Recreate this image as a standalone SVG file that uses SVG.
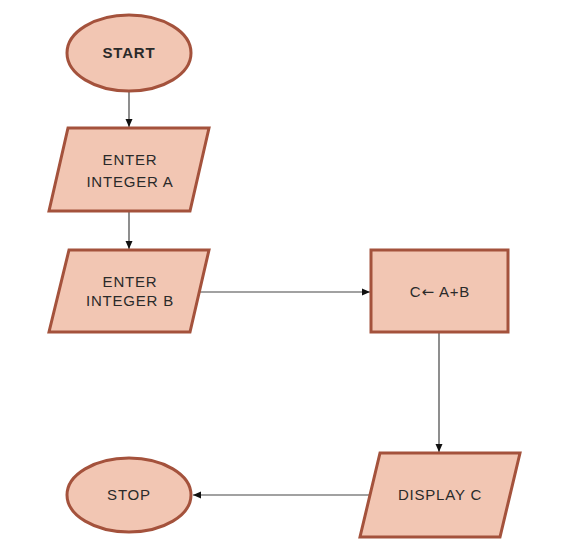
<svg xmlns="http://www.w3.org/2000/svg" width="566" height="548" viewBox="0 0 566 548">
<style>
.shape{fill:#f2c6b3;stroke:#a4523c;stroke-width:3}
.lbl{font-family:"Liberation Sans",Arial,sans-serif;font-size:15px;letter-spacing:0.8px;fill:#2a2a2a;text-anchor:middle}
.arr{font-family:"DejaVu Sans",sans-serif}
.con{fill:none;stroke:#444;stroke-width:1.2}
</style>
<defs>
<marker id="ah" markerWidth="10" markerHeight="10" refX="9" refY="5" orient="auto" markerUnits="userSpaceOnUse">
<path d="M1,1.5 L9,5 L1,8.5 Z" fill="#111"/>
</marker>
</defs>
<rect width="566" height="548" fill="#fff"/>
<g id="connectors">
<line class="con" x1="129" y1="92" x2="129" y2="127" marker-end="url(#ah)"/>
<line class="con" x1="129" y1="212" x2="129" y2="249" marker-end="url(#ah)"/>
<line class="con" x1="200" y1="292" x2="370" y2="292" marker-end="url(#ah)"/>
<line class="con" x1="439" y1="333" x2="439" y2="452" marker-end="url(#ah)"/>
<line class="con" x1="370" y1="495" x2="193" y2="495" marker-end="url(#ah)"/>
</g>
<g id="start">
<ellipse class="shape" cx="129" cy="53" rx="62" ry="38"/>
<text class="lbl" x="129" y="58" font-weight="bold">START</text>
</g>
<g id="enterA">
<polygon class="shape" points="68,128 209,128 190,211 49,211"/>
<text class="lbl" x="130" y="165">ENTER</text>
<text class="lbl" x="130" y="187">INTEGER A</text>
</g>
<g id="enterB">
<polygon class="shape" points="69,250 209,250 190,332 49,332"/>
<text class="lbl" x="130" y="287">ENTER</text>
<text class="lbl" x="130" y="306">INTEGER B</text>
</g>
<g id="compute">
<rect class="shape" x="371" y="250" width="137" height="82"/>
<text class="lbl" x="440" y="297">C<tspan class="arr">←</tspan> A+B</text>
</g>
<g id="display">
<polygon class="shape" points="380,453 520,453 500,537 360,537"/>
<text class="lbl" x="440" y="500">DISPLAY C</text>
</g>
<g id="stop">
<ellipse class="shape" cx="129" cy="495" rx="62" ry="37"/>
<text class="lbl" x="129" y="500">STOP</text>
</g>
</svg>
